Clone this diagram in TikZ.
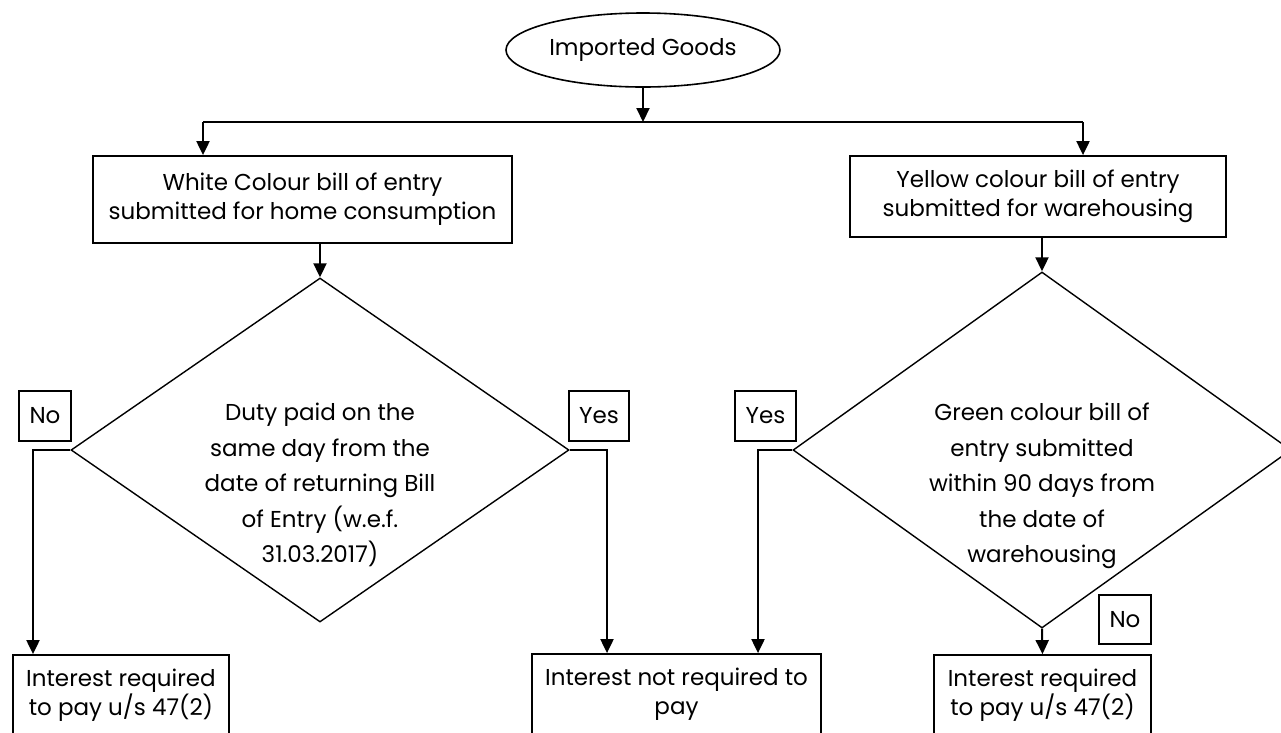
\documentclass[tikz,border=0pt]{standalone}
\usepackage{fontspec}
\setmainfont{Poppins}
\usetikzlibrary{shapes.geometric,arrows.meta}
\begin{document}
\begin{tikzpicture}[x=1pt,y=-1pt,
  box/.style={draw,line width=1.8pt,inner sep=0pt,align=center,font=\fontsize{23}{29}\selectfont},
  lbl/.style={draw,line width=1.5pt,inner sep=0pt,align=center,font=\fontsize{23}{29}\selectfont},
  dia/.style={draw,diamond,line width=1.4pt,inner sep=0pt},
  dtext/.style={align=center,font=\fontsize{23}{35.5}\selectfont},
  arr/.style={line width=2pt,-{Triangle[length=14pt,width=13pt]}},
  ln/.style={line width=2pt}]
\useasboundingbox (0,0) rectangle (1281,732);
\node[draw,ellipse,line width=1.6pt,minimum width=274pt,minimum height=74pt,inner sep=0pt,font=\fontsize{23}{29}\selectfont] (start) at (643,50) {Imported Goods};
\node[box,minimum width=419pt,minimum height=87pt] (white) at (302.5,199.5) {White Colour bill of entry\\submitted for home consumption};
\node[box,minimum width=376pt,minimum height=81pt] (yellow) at (1038,196.5) {Yellow colour bill of entry\\submitted for warehousing};
\node[dia,minimum width=498pt,minimum height=344pt] (ldiam) at (320,450) {};
\node[dtext] (ltext) at (320,485) {Duty paid on the\\same day from the\\date of returning Bill\\of Entry (w.e.f.\\31.03.2017)};
\node[dia,minimum width=498pt,minimum height=356pt] (rdiam) at (1042,450) {};
\node[dtext] (rtext) at (1042,486) {Green colour bill of\\entry submitted\\within 90 days from\\the date of\\warehousing};
\node[lbl,minimum width=52pt,minimum height=50pt] (no1) at (45,416) {No};
\node[lbl,minimum width=60pt,minimum height=50pt] (yes1) at (599,416) {Yes};
\node[lbl,minimum width=61pt,minimum height=50pt] (yes2) at (765.5,416) {Yes};
\node[lbl,minimum width=52pt,minimum height=49pt] (no2) at (1125,619.5) {No};
\node[box,minimum width=216pt,minimum height=80pt] (bl) at (121,695) {Interest required\\to pay u/s 47(2)};
\node[box,minimum width=289pt,minimum height=81pt] (mid) at (676.5,694.5) {Interest not required to\\pay};
\node[box,minimum width=217pt,minimum height=80pt] (br) at (1042.5,695) {Interest required\\to pay u/s 47(2)};
\coordinate (split) at (643,122);
\coordinate (sl) at (203,122);
\coordinate (sr) at (1083,122);
\coordinate (ln1) at (33,450);
\coordinate (ly1) at (607,450);
\coordinate (ry1) at (758,450);
\draw[arr] (start.south) -- (split);
\draw[ln] (sl) -- (sr);
\draw[arr] (sl) -- (sl |- white.north);
\draw[arr] (sr) -- (sr |- yellow.north);
\draw[arr] (white.south -| ldiam.north) -- (ldiam.north);
\draw[arr] (yellow.south -| rdiam.north) -- (rdiam.north);
\draw[arr] (ldiam.west) -- (ln1) -- (ln1 |- bl.north);
\draw[arr] (ldiam.east) -- (ly1) -- (ly1 |- mid.north);
\draw[arr] (rdiam.west) -- (ry1) -- (ry1 |- mid.north);
\draw[arr] (rdiam.south) -- (br.north);
\end{tikzpicture}
\end{document}
